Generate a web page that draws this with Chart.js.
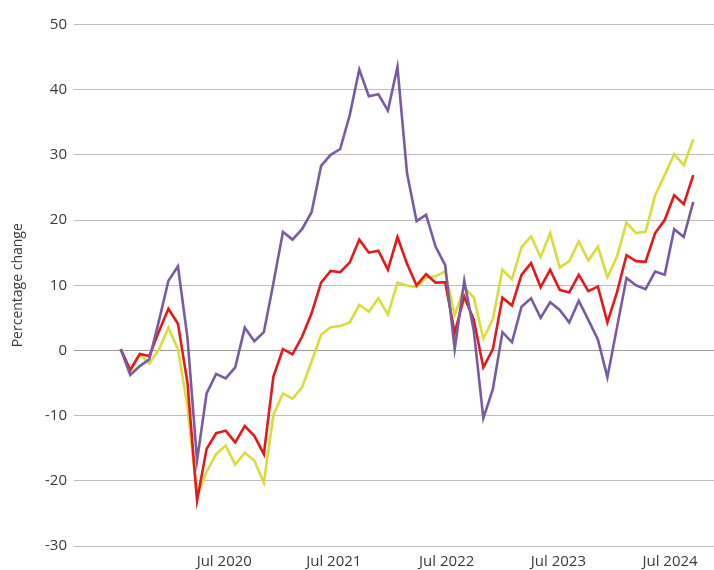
<!DOCTYPE html>
<html>
<head>
<meta charset="utf-8">
<script src="https://cdn.jsdelivr.net/npm/chart.js@4.4.1/dist/chart.umd.min.js"></script>
<style>
  html, body { margin: 0; padding: 0; background: #ffffff; }
  #wrap { width: 714px; height: 570px; position: relative; }
</style>
</head>
<body>
<div id="wrap"><canvas id="c" width="714" height="570"></canvas></div>
<script>
// Monthly periods (index positions along the x axis)
const periodCount = 61;

// Series values (percentage change)
const purpleSeries = [
  0.2, -3.75, -2.4, -1.35, 4.5, 10.7, 12.9, 1.9, -16.9, -6.6,
  -3.6, -4.3, -2.6, 3.5, 1.4, 2.8, 10.3, 18.2, 17.0, 18.6,
  21.2, 28.3, 30.0, 30.9, 36.1, 43.1, 39.0, 39.3, 36.8, 43.5,
  27.2, 19.85, 20.8, 15.9, 13.1, 0.2, 10.7, 3.0, -10.4, -5.95,
  2.8, 1.25, 6.7, 8.0, 5.0, 7.4, 6.2, 4.3, 7.6, 4.7,
  1.7, -4.1, 3.5, 11.1, 10.0, 9.4, 12.1, 11.6, 18.6, 17.4,
  22.8
];
const redSeries = [
  0.2, -3.0, -0.55, -0.85, 2.9, 6.4, 4.1, -5.0, -23.0, -15.1,
  -12.7, -12.3, -14.1, -11.6, -13.1, -15.9, -4.0, 0.2, -0.6, 2.1,
  5.7, 10.4, 12.2, 12.0, 13.5, 17.0, 15.0, 15.3, 12.4, 17.4,
  13.3, 10.0, 11.7, 10.4, 10.45, 2.7, 8.25, 4.7, -2.6, 0.2,
  8.1, 6.9, 11.6, 13.4, 9.7, 12.35, 9.3, 8.9, 11.6, 9.1,
  9.8, 4.3, 8.9, 14.6, 13.7, 13.6, 18.0, 20.0, 23.8, 22.45,
  26.9
];
const yellowSeries = [
  0.2, -3.2, -0.6, -2.0, 0.1, 3.5, 0.2, -8.6, -22.4, -18.6,
  -15.9, -14.6, -17.5, -15.7, -16.9, -20.3, -9.9, -6.6, -7.4, -5.7,
  -1.7, 2.4, 3.55, 3.75, 4.3, 7.0, 5.95, 8.0, 5.5, 10.4,
  9.95, 9.7, 11.1, 11.4, 12.1, 5.4, 9.7, 8.1, 1.8, 4.8,
  12.4, 10.9, 15.8, 17.5, 14.3, 18.0, 12.7, 13.7, 16.7, 13.8,
  15.9, 11.2, 14.4, 19.6, 18.0, 18.2, 23.8, 26.9, 30.1, 28.4,
  32.4
];

// X tick labels and where they sit (in period-index units)
const tickLabels = ['Jul 2020', 'Jul 2021', 'Jul 2022', 'Jul 2023', 'Jul 2024'];
const tickPositions = [10.85, 22.33, 34.16, 45.86, 57.56];

const toPoints = arr => arr.map((v, i) => ({ x: i, y: v }));

const FONT = '"Open Sans", Lato, sans-serif';
const TEXT = '#3a3a3a';

new Chart(document.getElementById('c'), {
  type: 'line',
  data: {
    datasets: [
      { data: toPoints(purpleSeries), borderColor: '#775ca2', borderWidth: 2.6 },
      { data: toPoints(redSeries), borderColor: '#e3191c', borderWidth: 2.6 },
      { data: toPoints(yellowSeries), borderColor: '#d9dc3b', borderWidth: 2.6 }
    ]
  },
  options: {
    responsive: false,
    animation: false,
    devicePixelRatio: 1,
    layout: { padding: { top: 24.5, right: 0, bottom: 0, left: 0 } },
    elements: {
      point: { radius: 0, hoverRadius: 0 },
      line: { tension: 0, fill: false, borderCapStyle: 'butt', borderJoinStyle: 'miter' }
    },
    plugins: { legend: { display: false }, tooltip: { enabled: false } },
    scales: {
      x: {
        type: 'linear',
        min: -4.894,
        max: 62.17,
        grid: { display: false, drawTicks: false },
        border: { display: false },
        afterBuildTicks: scale => { scale.ticks = tickPositions.map(v => ({ value: v })); },
        afterFit: scale => { scale.height = 24; },
        ticks: {
          autoSkip: false,
          maxRotation: 0,
          padding: 7,
          color: TEXT,
          font: { family: FONT, size: 15 },
          callback: (value, index) => tickLabels[index]
        }
      },
      y: {
        min: -30,
        max: 50,
        afterFit: scale => { scale.width = 74; },
        grid: {
          drawTicks: false,
          lineWidth: 1,
          color: ctx => (ctx.tick && ctx.tick.value === 0) ? '#9a9a9a' : '#bdbdbd'
        },
        border: { display: false },
        ticks: {
          stepSize: 10,
          padding: 7,
          color: TEXT,
          font: { family: FONT, size: 15 }
        },
        title: {
          display: true,
          text: 'Percentage change',
          color: TEXT,
          font: { family: FONT, size: 14 },
          padding: { top: 10, bottom: 0 }
        }
      }
    }
  }
});
</script>
</body>
</html>
